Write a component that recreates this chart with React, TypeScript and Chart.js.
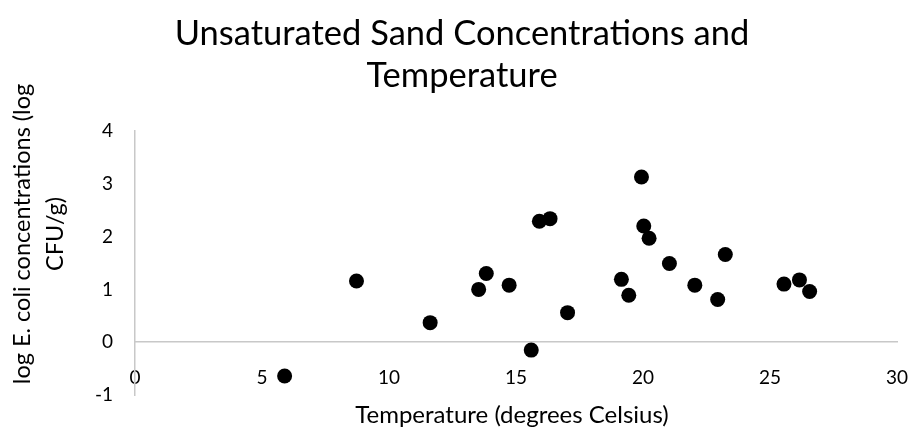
import React, { useEffect, useRef } from "react";
import { Chart, registerables } from "chart.js";

Chart.register(...registerables);

const temperature: number[] = [
  5.89, 8.72, 11.62, 13.53, 13.83, 14.73, 15.6, 15.92, 16.34, 17.03, 19.15,
  19.44, 19.94, 20.03, 20.24, 21.04, 22.04, 22.94, 23.24, 25.55, 26.16, 26.56,
];
const logEcoli: number[] = [
  -0.64, 1.16, 0.37, 1.0, 1.3, 1.08, -0.15, 2.29, 2.34, 0.56, 1.19,
  0.89, 3.13, 2.2, 1.97, 1.49, 1.08, 0.81, 1.66, 1.1, 1.18, 0.96,
];
const titleLines: string[] = ["Unsaturated Sand Concentrations and", "Temperature"];
const xTitle = "Temperature (degrees Celsius)";
const yTitleLines: string[] = ["log E. coli concentrations (log", "CFU/g)"];

const FONT = "Lato, 'Open Sans', 'DejaVu Sans', sans-serif";

const axisTitlePlugin = {
  id: "axisTitlePlugin",
  afterDraw(chart: any) {
    const ctx = chart.ctx;
    const area = chart.chartArea;
    ctx.save();
    ctx.fillStyle = "#000000";
    ctx.font = `24px ${FONT}`;
    ctx.textAlign = "center";
    ctx.textBaseline = "middle";
    ctx.fillText(xTitle, (area.left + area.right) / 2 - 4, 415);
    ctx.font = `23.5px ${FONT}`;
    const xs = [22, 55];
    yTitleLines.forEach((line, i) => {
      ctx.save();
      ctx.translate(xs[i], 234);
      ctx.rotate(-Math.PI / 2);
      ctx.fillText(line, 0, 0);
      ctx.restore();
    });
    ctx.restore();
  },
};

export default function App() {
  const ref = useRef<HTMLCanvasElement | null>(null);
  useEffect(() => {
    if (!ref.current) return;
    const chart = new Chart(ref.current, {
      type: "scatter",
      data: {
        datasets: [
          {
            label: "Series1",
            data: temperature.map((t, i) => ({ x: t, y: logEcoli[i] })),
            backgroundColor: "#000000",
            borderColor: "#000000",
            pointRadius: 7.5,
            pointBorderWidth: 0,
          },
        ],
      },
      options: {
        responsive: false,
        animation: false,
        layout: { padding: { left: 27, right: 13, top: 0, bottom: 36 } },
        plugins: {
          legend: { display: false },
          tooltip: { enabled: false },
          title: {
            display: true,
            text: titleLines,
            color: "#000000",
            font: { family: FONT, size: 34.5, weight: "normal", lineHeight: "42px" },
            padding: { top: 13, bottom: 34 },
          },
        },
        scales: {
          x: {
            type: "linear",
            position: { y: 0 },
            min: 0,
            max: 30,
            afterFit: (scale: any) => {
              scale.paddingLeft = 0;
              scale.paddingRight = 0;
            },
            ticks: {
              stepSize: 5,
              color: "#000000",
              font: { family: FONT, size: 19 },
              padding: 24,
              maxRotation: 0,
            },
            grid: { display: false, drawTicks: false },
            border: { display: true, color: "#c8c8c8", width: 1.5 },
          },
          y: {
            type: "linear",
            position: "left",
            min: -1,
            max: 4,
            afterFit: (scale: any) => {
              scale.width = 108;
            },
            ticks: {
              stepSize: 1,
              color: "#000000",
              font: { family: FONT, size: 19 },
              padding: 22,
            },
            grid: { display: false, drawTicks: false },
            border: { display: true, color: "#c8c8c8", width: 1.5 },
          },
        },
      },
      plugins: [axisTitlePlugin],
    });
    return () => chart.destroy();
  }, []);
  return (
    <div style={{ position: "absolute", left: 0, top: 0, width: 910, height: 431, background: "#ffffff" }}>
      <canvas ref={ref} width={910} height={431} />
    </div>
  );
}
